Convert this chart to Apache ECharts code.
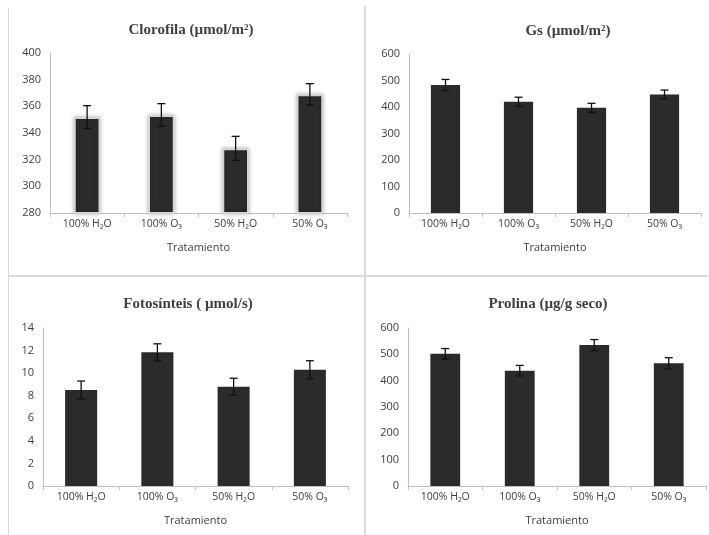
<!DOCTYPE html>
<html><head><meta charset="utf-8">
<script src="https://cdn.jsdelivr.net/npm/echarts@6/dist/echarts.min.js"></script>
<style>html,body{margin:0;padding:0;background:#fff}#c{width:709px;height:535px}</style>
</head><body><div id="c"></div>
<script>
var categories = ['100% H\u2082O', '100% O\u2083', '50% H\u2082O', '50% O\u2083'];
var xAxisName = 'Tratamiento';
var titles = ['Clorofila (\u00b5mol/m\u00b2)', 'Gs (\u00b5mol/m\u00b2)', 'Fotos\u00ednteis ( \u00b5mol/s)', 'Prolina (\u00b5g/g seco)'];
var clorofila = [352, 353.5, 328.5, 369];
var clorofilaErr = [8.5, 8.5, 9, 8];
var gs = [483, 420, 397, 447];
var gsErr = [21, 17, 17, 17];
var fotosinteis = [8.5, 11.85, 8.8, 10.3];
var fotosinteisErr = [0.8, 0.75, 0.75, 0.8];
var prolina = [502, 438, 535, 466];
var prolinaErr = [20, 20, 21, 21];
var yMin = [280, 0, 0, 0];
var yMax = [400, 600, 14, 600];
var yInterval = [20, 100, 2, 100];

var values = [clorofila, gs, fotosinteis, prolina];
var errs = [clorofilaErr, gsErr, fotosinteisErr, prolinaErr];

var grids = [
  {left: 50, top: 53, width: 297, height: 160},
  {left: 409, top: 54, width: 292, height: 159},
  {left: 43, top: 328, width: 305, height: 158},
  {left: 408, top: 328, width: 298, height: 158}
];
var titlePos = [[186, 18], [563, 19], [183, 292], [543, 292]];
var barWidths = ['36%', '40%', '42%', '40%'];

var chart = echarts.init(document.getElementById('c'));
var option = {
  animation: false,
  backgroundColor: '#fff',
  title: [], grid: [], xAxis: [], yAxis: [], series: [],
  graphic: [
    {type: 'rect', shape: {x: 364, y: 6, width: 2, height: 529}, style: {fill: '#d9d9d9'}},
    {type: 'rect', shape: {x: 8, y: 275, width: 700, height: 2}, style: {fill: '#d9d9d9'}},
    {type: 'rect', shape: {x: 8, y: 8, width: 1, height: 527}, style: {fill: '#d9d9d9'}}
  ]
};

for (var i = 0; i < 4; i++) {
  option.title.push({
    text: titles[i], left: titlePos[i][0], top: titlePos[i][1], textAlign: 'center',
    textStyle: {fontFamily: 'Liberation Serif', fontSize: 15, fontWeight: 'bold', color: '#404040'}
  });
  option.grid.push(grids[i]);
  option.xAxis.push({
    type: 'category', gridIndex: i, data: categories,
    name: xAxisName, nameLocation: 'middle', nameGap: 29,
    nameTextStyle: {fontFamily: 'Open Sans', fontSize: 11, color: '#404040'},
    axisLine: {lineStyle: {color: '#bfbfbf'}},
    axisTick: {show: true, length: 4, lineStyle: {color: '#bfbfbf'}},
    axisLabel: {fontFamily: 'Open Sans', fontSize: 10.5, color: '#404040', margin: 6}
  });
  option.yAxis.push({
    type: 'value', gridIndex: i, min: yMin[i], max: yMax[i], interval: yInterval[i],
    axisLine: {show: true, lineStyle: {color: '#bfbfbf'}},
    axisTick: {show: false},
    splitLine: {show: false},
    axisLabel: {fontFamily: 'Open Sans', fontSize: 11, color: '#404040', margin: 9}
  });
  var barItem = {color: '#2b2b2b'};
  if (i === 0) {
    barItem = {color: '#2b2b2b', borderColor: '#d4d4d4', borderWidth: 2, shadowColor: 'rgba(0,0,0,0.25)', shadowBlur: 4};
  }
  option.series.push({
    type: 'bar', xAxisIndex: i, yAxisIndex: i, data: values[i],
    barWidth: barWidths[i], itemStyle: barItem
  });
  (function (vals, er, idx) {
    option.series.push({
      type: 'custom', xAxisIndex: idx, yAxisIndex: idx,
      data: vals.map(function (v, k) { return [k, v - er[k], v + er[k]]; }),
      encode: {x: 0, y: [1, 2]},
      z: 10,
      renderItem: function (params, api) {
        var x = api.value(0);
        var lo = api.coord([x, api.value(1)]);
        var hi = api.coord([x, api.value(2)]);
        var hw = 4;
        var st = {stroke: '#111', lineWidth: 1.3};
        return {type: 'group', children: [
          {type: 'line', shape: {x1: lo[0], y1: lo[1], x2: hi[0], y2: hi[1]}, style: st},
          {type: 'line', shape: {x1: hi[0] - hw, y1: hi[1], x2: hi[0] + hw, y2: hi[1]}, style: st},
          {type: 'line', shape: {x1: lo[0] - hw, y1: lo[1], x2: lo[0] + hw, y2: lo[1]}, style: st}
        ]};
      }
    });
  })(values[i], errs[i], i);
}
chart.setOption(option);
</script>
</body></html>
